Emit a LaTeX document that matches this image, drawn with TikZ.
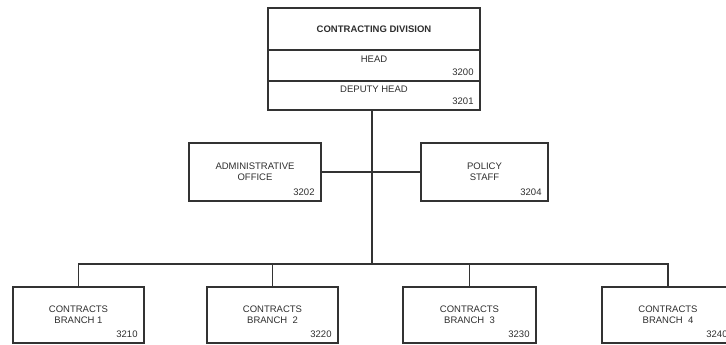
\documentclass[tikz,border=0pt]{standalone}
\usepackage{fontspec}
\setmainfont{Liberation Sans}
\begin{document}
\begin{tikzpicture}[x=1pt,y=-1pt,
  txt/.style={text=black!82, font=\fontsize{9.5}{11}\selectfont},
  ink/.style={draw=black!80, line width=1.5pt},
  unit/.style={ink, rectangle, inner sep=0pt, align=center, txt},
  code/.style={label={[anchor=south east, inner sep=0pt, xshift=-7pt, yshift=6pt,
    txt]south east:#1}},
  title/.style 2 args={label={[anchor=north, inner sep=0pt, yshift=-#1, txt]north:#2}},
  wire/.style={draw=black!80, line width=1.5pt}
]
\path[use as bounding box, clip] (0,0) rectangle (726,345);

% Division header block
\node[unit, minimum width=212pt, minimum height=42pt,
  font=\fontsize{9.5}{11}\selectfont\bfseries]
  (div) at (374,29) {CONTRACTING DIVISION};
\node[unit, minimum width=212pt, minimum height=31pt, code=3200,
  title={6.5pt}{HEAD}]
  (head) at (374,65.5) {};
\node[unit, minimum width=212pt, minimum height=29pt, code=3201,
  title={5.5pt}{DEPUTY HEAD}]
  (deputy) at (374,95.5) {};

% Staff offices
\node[unit, minimum width=132pt, minimum height=58pt, code=3202]
  (admin) at (255,172) {ADMINISTRATIVE\\OFFICE};
\node[unit, minimum width=127pt, minimum height=58pt, code=3204]
  (policy) at (484.5,172) {POLICY\\STAFF};

% Branches
\node[unit, minimum width=131pt, minimum height=56pt, code=3210]
  (b1) at (78.5,315) {CONTRACTS\\BRANCH 1};
\node[unit, minimum width=131pt, minimum height=56pt, code=3220]
  (b2) at (272.5,315) {CONTRACTS\\BRANCH\ \ 2};
\node[unit, minimum width=133pt, minimum height=56pt, code=3230]
  (b3) at (469.5,315) {CONTRACTS\\BRANCH\ \ 3};
\node[unit, minimum width=132pt, minimum height=56pt, code=3240]
  (b4) at (668,315) {CONTRACTS\\BRANCH\ \ 4};

% Connectors
\coordinate (bus) at (372,264);
\coordinate (spine) at (372,0);
\draw[wire] (deputy.south -| spine) -- (bus);
\draw[wire] (admin.east) -- (policy.west);
\draw[wire] (b1.north) |- (bus) -| (b4.north);
\draw[wire] (b2.north) -- (b2.north |- bus);
\draw[wire] (b3.north) -- (b3.north |- bus);
\end{tikzpicture}
\end{document}
